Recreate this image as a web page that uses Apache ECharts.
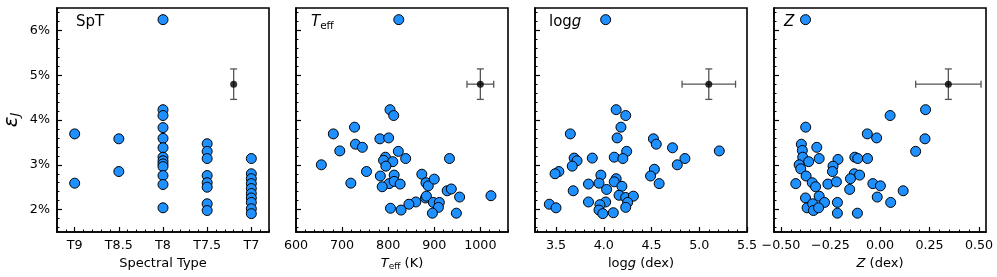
<!DOCTYPE html>
<html><head><meta charset="utf-8">
<script src="https://cdn.jsdelivr.net/npm/echarts@6/dist/echarts.min.js"></script>
<style>html,body{margin:0;padding:0;background:#fff}#c{width:997px;height:277px}</style>
</head><body><div id="c"></div>
<script>
// ---------- DATA ----------
// Panel 1: spectral type (numeric subtype, T9 -> 9) vs epsilon_J (%)
const sptX = [9, 9, 8.5, 8.5,
  8, 8, 8, 8, 8, 8, 8, 8, 8, 8, 8, 8, 8,
  7.5, 7.5, 7.5, 7.5, 7.5, 7.5, 7.5, 7.5,
  7, 7, 7, 7, 7, 7, 7, 7, 7, 7];
const sptY = [3.69, 2.59, 3.58, 2.85,
  6.24, 4.23, 4.10, 3.83, 3.59, 3.38, 3.17, 3.09, 3.02, 2.96, 2.76, 2.56, 2.04,
  3.47, 3.30, 3.14, 2.76, 2.60, 2.50, 2.13, 1.98,
  3.14, 2.80, 2.69, 2.58, 2.47, 2.36, 2.26, 2.16, 2.02, 1.91];
const sptTicks = [9, 8.5, 8, 7.5, 7];
const sptLabels = ['T9', 'T8.5', 'T8', 'T7.5', 'T7'];

// Panel 2: Teff (K)
const teffX = [823,804,812,727,681,782,801,729,744,695,822,838,794,790,810,795,655,933,753,783,813,873,719,802,813,826,787,882,887,900,928,937,955,1023,881,883,860,845,898,911,805,828,909,896,948];
const teffY = [6.24,4.23,4.10,3.84,3.69,3.58,3.60,3.46,3.39,3.31,3.30,3.14,3.17,3.10,3.07,2.97,3.00,3.14,2.85,2.75,2.77,2.79,2.59,2.58,2.63,2.57,2.51,2.60,2.53,2.68,2.42,2.46,2.28,2.31,2.26,2.30,2.17,2.12,2.16,2.16,2.03,1.99,2.05,1.92,1.92];
const teffTicks = [600, 700, 800, 900, 1000];

// Panel 3: log g (dex)
const loggX = [4.02,4.13,4.23,4.18,3.65,4.14,4.52,4.55,4.72,5.21,4.24,4.11,4.20,3.69,3.72,3.88,3.67,3.53,3.49,4.85,4.77,4.53,4.49,4.58,3.97,4.13,3.84,3.95,4.11,4.19,4.03,3.68,4.16,4.23,4.31,3.43,3.50,3.84,4.02,3.96,4.25,4.23,3.95,3.99,4.10];
const loggY = [6.24,4.23,4.10,3.84,3.69,3.60,3.58,3.46,3.38,3.31,3.30,3.17,3.14,3.15,3.09,3.15,2.97,2.85,2.80,3.14,3.00,2.90,2.75,2.58,2.77,2.69,2.57,2.59,2.62,2.52,2.45,2.42,2.32,2.27,2.30,2.12,2.04,2.17,2.17,2.11,2.16,2.05,1.99,1.91,1.93];
const loggTicks = [3.5, 4.0, 4.5, 5.0, 5.5];

// Panel 4: Z (dex)
const zX = [-0.376,0.23,0.051,-0.375,-0.064,-0.017,0.227,0.18,-0.397,-0.392,-0.319,-0.39,-0.307,-0.36,-0.408,-0.40,-0.212,-0.237,-0.24,-0.127,-0.112,-0.063,-0.373,-0.13,-0.103,-0.425,-0.342,-0.325,-0.263,-0.22,-0.149,-0.153,-0.036,0.002,0.117,-0.376,-0.307,-0.28,-0.215,-0.014,0.054,-0.368,-0.34,-0.336,-0.31,-0.215,-0.114];
const zY = [6.24,4.23,4.10,3.84,3.69,3.60,3.58,3.30,3.46,3.32,3.39,3.17,3.14,3.07,3.00,2.91,3.12,2.97,2.85,3.17,3.14,3.14,2.75,2.80,2.77,2.58,2.60,2.51,2.57,2.62,2.69,2.45,2.58,2.53,2.42,2.26,2.30,2.16,2.16,2.28,2.16,2.04,2.13,1.98,2.04,1.92,1.92];
const zTicks = [-0.5, -0.25, 0, 0.25, 0.5];

// Typical error bar in each panel: [x, y, xerr, yerr]
const errX = [7.2, 1000, 5.1, 0.345];
const errY = [4.8, 4.8, 4.8, 4.8];
const errXerr = [0, 29, 0.28, 0.165];
const errYerr = [0.34, 0.34, 0.34, 0.34];

// y axis ticks (percent)
const yTicks = [2, 3, 4, 5, 6];

// ---------- CHART ----------
const FONT = 'DejaVu Sans';
function range(a, b, s) { const r = []; const n = Math.round((b - a) / s); for (let i = 0; i <= n; i++) r.push(+(a + i * s).toFixed(6)); return r; }

const panels = [
  { x: sptX, y: sptY, min: 6.8, max: 9.2, inverse: true, ticks: sptTicks,
    fmt: v => sptLabels[sptTicks.indexOf(+v)] || '', minor: range(6.8, 9.2, 0.1),
    name: 'Spectral Type', label: '{n|SpT}', labelX: 76 },
  { x: teffX, y: teffY, min: 600, max: 1060, inverse: false, ticks: teffTicks,
    fmt: v => String(Math.round(v)), minor: range(600, 1060, 20),
    name: '{i|T}{s|eff}{n| (K)}', label: '{i|T}{s|eff}', labelX: 311 },
  { x: loggX, y: loggY, min: 3.28, max: 5.5, inverse: false, ticks: loggTicks,
    fmt: v => (+v).toFixed(1), minor: range(3.3, 5.5, 0.1),
    name: '{n|log}{i|g}{n| (dex)}', label: '{n|log}{i|g}', labelX: 549 },
  { x: zX, y: zY, min: -0.535, max: 0.535, inverse: false, ticks: zTicks,
    fmt: v => (v < 0 ? '\u2212' : '') + Math.abs(v).toFixed(2), minor: range(-0.5, 0.5, 0.05),
    name: '{i|Z}{n| (dex)}', label: '{i|Z}', labelX: 784 }
];

const lefts = [57, 296, 535, 774];
const W = 212, TOP = 8, H = 224;
const richAxis = {
  n: { fontFamily: FONT, fontSize: 13, color: '#000' },
  i: { fontFamily: FONT, fontSize: 13, fontStyle: 'italic', color: '#000' },
  s: { fontFamily: FONT, fontSize: 9, color: '#000', padding: [7, 0, 0, 0] }
};
const richPanel = {
  n: { fontFamily: FONT, fontSize: 15, color: '#000' },
  i: { fontFamily: FONT, fontSize: 15, fontStyle: 'italic', color: '#000' },
  s: { fontFamily: FONT, fontSize: 10.5, color: '#000', padding: [8, 0, 0, 0] }
};

const grid = [], xAxis = [], yAxis = [], series = [], graphic = [];
const yMinor = range(1.6, 6.4, 0.2);

panels.forEach((p, g) => {
  grid.push({ left: lefts[g], top: TOP, width: W, height: H, show: true, borderColor: '#000', borderWidth: 1.6, backgroundColor: 'transparent' });
  // main x axis
  xAxis.push({
    type: 'value', gridIndex: g, min: p.min, max: p.max, inverse: p.inverse, position: 'bottom',
    axisLine: { show: true, onZero: false, lineStyle: { color: '#000', width: 1.6 } },
    axisTick: { show: true, inside: true, length: 5, customValues: p.ticks, lineStyle: { color: '#000', width: 1.2 } },
    axisLabel: { show: true, customValues: p.ticks, formatter: p.fmt, color: '#000', fontSize: 12.7, fontFamily: FONT, margin: 7 },
    splitLine: { show: false },
    name: p.name, nameLocation: 'middle', nameGap: 21,
    nameTextStyle: { fontFamily: FONT, fontSize: 13, color: '#000', rich: richAxis }
  });
  // minor x ticks
  xAxis.push({
    type: 'value', gridIndex: g, min: p.min, max: p.max, inverse: p.inverse, position: 'bottom',
    axisLine: { show: false, onZero: false }, axisLabel: { show: false }, splitLine: { show: false },
    axisTick: { show: true, inside: true, length: 2.5, customValues: p.minor, lineStyle: { color: '#000', width: 1 } }
  });
  // main y axis
  yAxis.push({
    type: 'value', gridIndex: g, min: 1.5, max: 6.5, position: 'left',
    axisLine: { show: true, onZero: false, lineStyle: { color: '#000', width: 1.6 } },
    axisTick: { show: true, inside: true, length: 5, customValues: yTicks, lineStyle: { color: '#000', width: 1.2 } },
    axisLabel: { show: g === 0, customValues: yTicks, formatter: v => Math.round(v) + '%', color: '#000', fontSize: 12.7, fontFamily: FONT, margin: 7 },
    splitLine: { show: false },
    name: g === 0 ? '{e|\u03b5}{j|J}' : '', nameLocation: 'middle', nameRotate: 90, nameGap: 35,
    nameTextStyle: { rich: {
      e: { fontFamily: FONT, fontSize: 20, fontStyle: 'italic', color: '#000' },
      j: { fontFamily: FONT, fontSize: 13, fontStyle: 'italic', color: '#000', padding: [8, 0, 0, 0] } } }
  });
  // minor y ticks
  yAxis.push({
    type: 'value', gridIndex: g, min: 1.5, max: 6.5, position: 'left',
    axisLine: { show: false, onZero: false }, axisLabel: { show: false }, splitLine: { show: false },
    axisTick: { show: true, inside: true, length: 2.5, customValues: yMinor, lineStyle: { color: '#000', width: 1 } }
  });

  series.push({
    type: 'scatter', xAxisIndex: 2 * g, yAxisIndex: 2 * g,
    data: p.x.map((v, i) => [v, p.y[i]]),
    symbol: 'circle', symbolSize: 10,
    itemStyle: { color: '#1E90FF', borderColor: '#000', borderWidth: 1, opacity: 1 },
    z: 3, animation: false
  });
  series.push({
    type: 'custom', xAxisIndex: 2 * g, yAxisIndex: 2 * g,
    data: [[errX[g], errY[g], errXerr[g], errYerr[g]]],
    renderItem: (params, api) => {
      const x = api.value(0), y = api.value(1), xe = api.value(2), ye = api.value(3);
      const c = api.coord([x, y]);
      const st = { stroke: '#555', lineWidth: 1.3 };
      const ch = [];
      const cap = 3.5;
      if (ye > 0) {
        const t = api.coord([x, y + ye]), b = api.coord([x, y - ye]);
        ch.push({ type: 'line', shape: { x1: c[0], y1: t[1], x2: c[0], y2: b[1] }, style: st });
        ch.push({ type: 'line', shape: { x1: c[0] - cap, y1: t[1], x2: c[0] + cap, y2: t[1] }, style: st });
        ch.push({ type: 'line', shape: { x1: c[0] - cap, y1: b[1], x2: c[0] + cap, y2: b[1] }, style: st });
      }
      if (xe > 0) {
        const l = api.coord([x - xe, y]), r = api.coord([x + xe, y]);
        ch.push({ type: 'line', shape: { x1: l[0], y1: c[1], x2: r[0], y2: c[1] }, style: st });
        ch.push({ type: 'line', shape: { x1: l[0], y1: c[1] - cap, x2: l[0], y2: c[1] + cap }, style: st });
        ch.push({ type: 'line', shape: { x1: r[0], y1: c[1] - cap, x2: r[0], y2: c[1] + cap }, style: st });
      }
      return { type: 'group', children: ch };
    },
    z: 4, animation: false
  });
  series.push({
    type: 'scatter', xAxisIndex: 2 * g, yAxisIndex: 2 * g,
    data: [[errX[g], errY[g]]], symbol: 'circle', symbolSize: 7,
    itemStyle: { color: '#000' }, z: 5, animation: false
  });
  graphic.push({
    type: 'text', left: p.labelX, top: 15, z: 10,
    style: { text: p.label, rich: richPanel, fill: '#000' }
  });
});

const chart = echarts.init(document.getElementById('c'), null, { renderer: 'canvas' });
chart.setOption({ animation: false, grid, xAxis, yAxis, series, graphic });
</script>
</body></html>
